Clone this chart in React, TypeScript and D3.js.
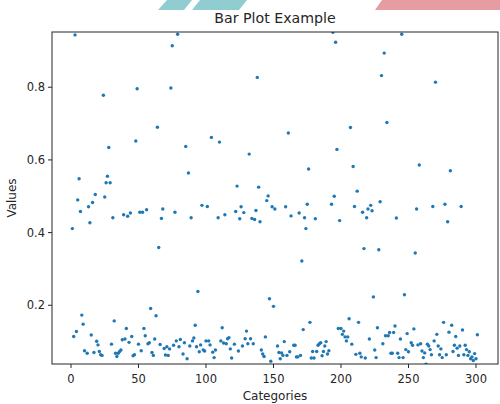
import React from "react";
import * as d3 from "d3";

const categories = [
  1, 2, 3, 4, 5, 6, 7, 8, 9, 10, 12, 13, 14, 15, 16, 17, 18, 19, 20, 21, 22, 23, 24, 25, 26, 27, 28, 29, 30,
  31, 32, 33, 34, 35, 36, 37, 38, 39, 40, 41, 42, 43, 44, 45, 46, 47, 48, 49, 50, 51, 52, 53, 54, 55, 56, 57, 58, 59, 60,
  61, 62, 63, 64, 65, 66, 67, 68, 69, 70, 71, 72, 73, 74, 75, 76, 77, 78, 79, 80, 81, 83, 84, 85, 86, 87, 88, 89, 90,
  91, 92, 93, 94, 95, 96, 97, 98, 99, 100, 101, 102, 103, 104, 105, 106, 107, 109, 110, 111, 112, 113, 114, 115, 116, 117, 118, 119,
  121, 122, 123, 124, 125, 126, 127, 128, 129, 130, 131, 132, 133, 134, 135, 136, 137, 138, 139, 140, 141, 142, 143, 144, 145, 146, 147, 148, 149, 150,
  151, 153, 154, 155, 156, 157, 158, 159, 160, 161, 162, 163, 165, 166, 167, 168, 169, 170, 171, 172, 173, 174, 175, 176, 177, 178, 179, 180,
  181, 182, 183, 184, 185, 186, 187, 188, 189, 190, 191, 193, 194, 195, 196, 197, 198, 199, 200, 201, 202, 203, 204, 205, 206, 207, 208, 209, 210,
  211, 212, 213, 214, 215, 216, 217, 218, 219, 220, 221, 222, 223, 224, 225, 226, 227, 228, 229, 230, 231, 232, 233, 234, 235, 236, 237, 238, 239, 240,
  241, 242, 243, 244, 245, 246, 247, 248, 249, 250, 252, 253, 254, 255, 256, 257, 258, 259, 260, 261, 262, 263, 264, 265, 266, 267, 268, 269, 270,
  271, 272, 273, 274, 275, 276, 277, 278, 279, 280, 281, 282, 283, 284, 285, 286, 287, 288, 289, 290, 291, 292, 293, 294, 295, 296, 297, 298, 299, 300, 301,
];

const values = [
  0.411, 0.114, 0.944, 0.128, 0.49, 0.548, 0.458, 0.173, 0.148, 0.075, 0.068, 0.471, 0.427, 0.118, 0.483, 0.07, 0.505, 0.101, 0.091, 0.073, 0.064, 0.062, 0.778, 0.498, 0.537, 0.555, 0.634, 0.537, 0.093,
  0.441, 0.157, 0.068, 0.059, 0.068, 0.073, 0.077, 0.105, 0.449, 0.107, 0.136, 0.445, 0.098, 0.454, 0.114, 0.061, 0.064, 0.652, 0.796, 0.093, 0.456, 0.075, 0.456, 0.136, 0.116, 0.463, 0.094, 0.097, 0.191, 0.07,
  0.062, 0.107, 0.171, 0.69, 0.359, 0.092, 0.439, 0.465, 0.081, 0.063, 0.086, 0.062, 0.08, 0.798, 0.914, 0.09, 0.456, 0.102, 0.946, 0.086, 0.106, 0.066, 0.097, 0.637, 0.053, 0.564, 0.088, 0.441, 0.102,
  0.11, 0.145, 0.086, 0.238, 0.072, 0.091, 0.475, 0.077, 0.074, 0.102, 0.472, 0.102, 0.091, 0.662, 0.071, 0.056, 0.077, 0.441, 0.649, 0.102, 0.138, 0.096, 0.449, 0.094, 0.108, 0.111, 0.08, 0.055,
  0.093, 0.458, 0.528, 0.074, 0.438, 0.471, 0.088, 0.455, 0.108, 0.129, 0.094, 0.616, 0.108, 0.439, 0.094, 0.436, 0.461, 0.827, 0.525, 0.43, 0.077, 0.066, 0.059, 0.113, 0.488, 0.501, 0.218, 0.046, 0.471, 0.197,
  0.465, 0.088, 0.07, 0.053, 0.069, 0.062, 0.1, 0.471, 0.062, 0.674, 0.072, 0.446, 0.09, 0.09, 0.058, 0.058, 0.454, 0.062, 0.322, 0.133, 0.441, 0.411, 0.478, 0.575, 0.153, 0.055, 0.073, 0.055,
  0.438, 0.073, 0.09, 0.094, 0.097, 0.061, 0.073, 0.088, 0.1, 0.066, 0.075, 0.478, 0.951, 0.5, 0.924, 0.629, 0.136, 0.433, 0.136, 0.12, 0.129, 0.113, 0.102, 0.113, 0.163, 0.689, 0.093, 0.582, 0.472,
  0.065, 0.514, 0.153, 0.068, 0.058, 0.456, 0.356, 0.055, 0.441, 0.465, 0.107, 0.475, 0.46, 0.223, 0.077, 0.056, 0.138, 0.353, 0.485, 0.832, 0.094, 0.894, 0.116, 0.703, 0.116, 0.125, 0.068, 0.068, 0.125, 0.143,
  0.44, 0.068, 0.056, 0.107, 0.946, 0.056, 0.229, 0.078, 0.122, 0.072, 0.097, 0.09, 0.135, 0.344, 0.465, 0.091, 0.586, 0.094, 0.074, 0.056, 0.069, 0.038, 0.093, 0.088, 0.078, 0.064, 0.472, 0.102, 0.814,
  0.12, 0.088, 0.064, 0.08, 0.056, 0.153, 0.478, 0.064, 0.43, 0.126, 0.57, 0.145, 0.073, 0.09, 0.114, 0.082, 0.062, 0.088, 0.472, 0.132, 0.064, 0.09, 0.078, 0.062, 0.072, 0.053, 0.058, 0.048, 0.067, 0.053, 0.119,
];

const xTicks = [0, 50, 100, 150, 200, 250, 300];
const yTicks = [0.2, 0.4, 0.6, 0.8];
const xDomain = [-14.07, 316.3];
const yDomain = [0.0384, 0.952];

const W = 500;
const H = 404;
const L = 52, R = 498, T = 32, B = 364;
const FONT = "'DejaVu Sans', sans-serif";
const INK = "#262626";

export default function App() {
  const x = d3.scaleLinear().domain(xDomain).range([L, R]);
  const y = d3.scaleLinear().domain(yDomain).range([B, T]);
  const pts = categories.map((c, i) => ({ c, v: values[i] }));

  return (
    <svg width={W} height={H} style={{ position: "absolute", left: 0, top: 0, background: "#fff" }}
      fontFamily={FONT}>
      <defs>
        <clipPath id="plot">
          <rect x={L} y={T} width={R - L} height={B - T} />
        </clipPath>
      </defs>
      {/* decorative strip fragments at top edge */}
      <polygon points="167,0 192,0 184,10 158,10" fill="#7cc3c8" opacity={0.85} />
      <polygon points="200,0 247,0 239,10 192,10" fill="#7cc3c8" opacity={0.85} />
      <polygon points="382,0 500,0 500,10 375,10" fill="#e08b92" opacity={0.85} />

      <text x={(L + R) / 2} y={22.5} textAnchor="middle" fontSize={14.2} fill={INK}>Bar Plot Example</text>

      <g clipPath="url(#plot)">
        {pts.map((p, i) => (
          <circle key={i} cx={x(p.c)} cy={y(p.v)} r={1.7} fill="#1f77b4" />
        ))}
      </g>

      <rect x={L} y={T} width={R - L} height={B - T} fill="none" stroke={INK} strokeWidth={1} />

      {xTicks.map((t) => (
        <g key={t}>
          <line x1={x(t)} x2={x(t)} y1={B} y2={B + 4} stroke={INK} strokeWidth={1} />
          <text x={x(t)} y={382.8} textAnchor="middle" fontSize={11.5} fill={INK}>{t}</text>
        </g>
      ))}
      {yTicks.map((t) => (
        <g key={t}>
          <line x1={L - 4} x2={L} y1={y(t)} y2={y(t)} stroke={INK} strokeWidth={1} />
          <text x={L - 7} y={y(t)} dy="0.36em" textAnchor="end" fontSize={11.5} fill={INK}>{t.toFixed(1)}</text>
        </g>
      ))}

      <text x={(L + R) / 2} y={399.5} textAnchor="middle" fontSize={12} fill={INK}>Categories</text>
      <text transform={`translate(15.5, ${(T + B) / 2}) rotate(-90)`} textAnchor="middle" fontSize={12} fill={INK}>Values</text>
    </svg>
  );
}
